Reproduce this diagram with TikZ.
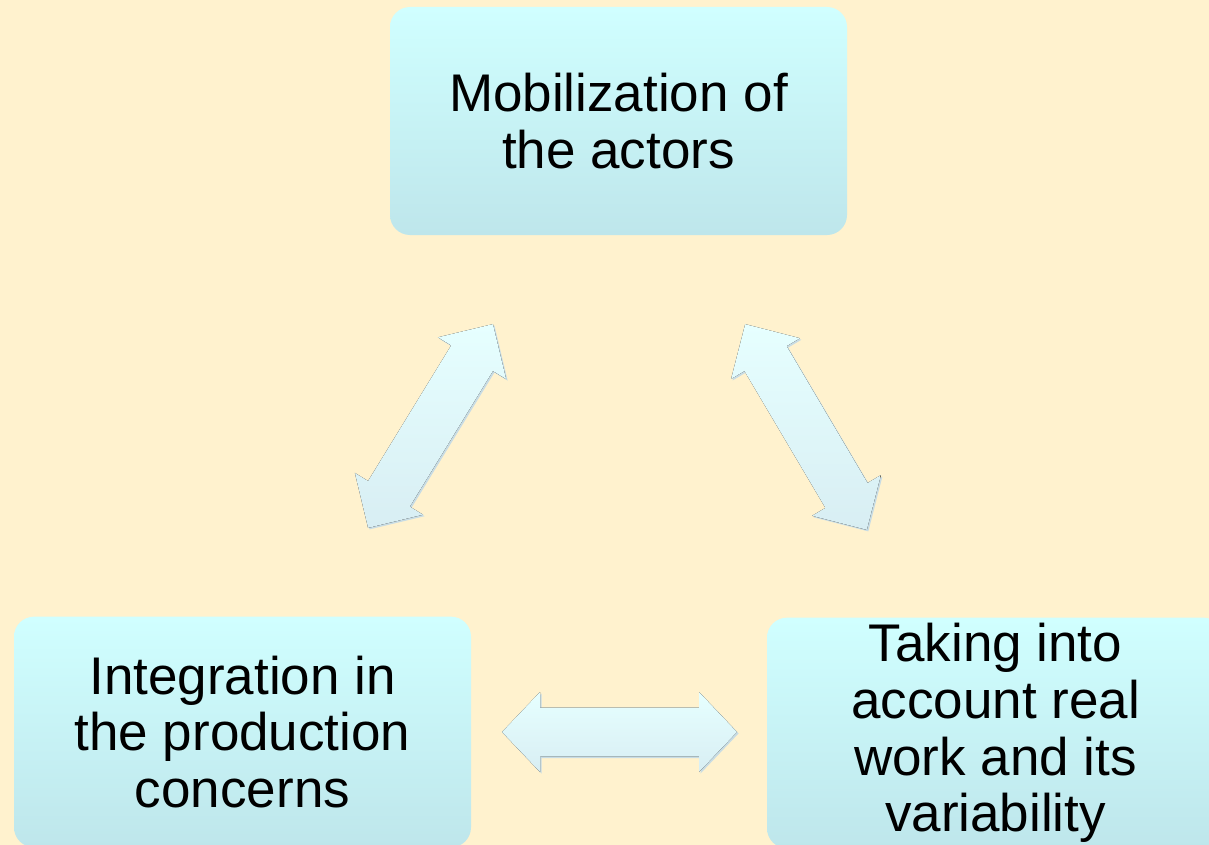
\documentclass[tikz,border=0pt]{standalone}
\usepackage{fontspec}
\setmainfont{Liberation Sans}
\definecolor{bgc}{RGB}{255,242,206}
\definecolor{boxtop}{RGB}{208,255,255}
\definecolor{boxbot}{RGB}{190,230,235}
\definecolor{arrtop}{RGB}{230,255,255}
\definecolor{arrbot}{RGB}{216,238,243}
\definecolor{arrshadow}{RGB}{200,220,228}
\newcommand\twoheaded[5]{%
  \begin{scope}[shift={(#1+1.5,#2+1.5)}]
    \fill[arrshadow] ([rotate=#3]-#4,0) -- ([rotate=#3]-#4+#5,40) -- ([rotate=#3]-#4+#5,24.5) -- ([rotate=#3]#4-#5,24.5) -- ([rotate=#3]#4-#5,40) -- ([rotate=#3]#4,0)
      -- ([rotate=#3]#4-#5,-40) -- ([rotate=#3]#4-#5,-24.5) -- ([rotate=#3]-#4+#5,-24.5) -- ([rotate=#3]-#4+#5,-40) -- cycle;
  \end{scope}
  \begin{scope}[shift={(#1,#2)}]
    \fill[top color=arrtop,bottom color=arrbot] ([rotate=#3]-#4,0) -- ([rotate=#3]-#4+#5,40) -- ([rotate=#3]-#4+#5,24.5) -- ([rotate=#3]#4-#5,24.5) -- ([rotate=#3]#4-#5,40) -- ([rotate=#3]#4,0)
      -- ([rotate=#3]#4-#5,-40) -- ([rotate=#3]#4-#5,-24.5) -- ([rotate=#3]-#4+#5,-24.5) -- ([rotate=#3]-#4+#5,-40) -- cycle;
  \end{scope}}
\begin{document}
\begin{tikzpicture}[x=0.75pt,y=-0.75pt,
  box/.style={rounded corners=15pt, top color=boxtop, bottom color=boxbot, draw=none,
    minimum width=342.75pt, inner sep=0pt, align=center,
    font=\fontsize{39.75pt}{42.5pt}\selectfont}]
\useasboundingbox (0,0) rectangle (1209,845);
\clip (0,0) rectangle (1209,845);
\fill[bgc] (0,0) rectangle (1209,845);

\node[box, minimum height=171pt] (top) at (618.5,121) {Mobilization of\\the actors};
\node[box, minimum height=173pt] (left) at (242.5,732) {Integration in\\the production\\concerns};
\node[box, minimum height=173pt] (right) at (995.5,733) {Taking into\\account real\\work and its\\variability};

\twoheaded{430.5}{426}{58.5}{119.5}{40}
\twoheaded{806}{427}{120.6}{119.5}{40}
\twoheaded{619.5}{732}{0}{117.5}{38}
\end{tikzpicture}
\end{document}
